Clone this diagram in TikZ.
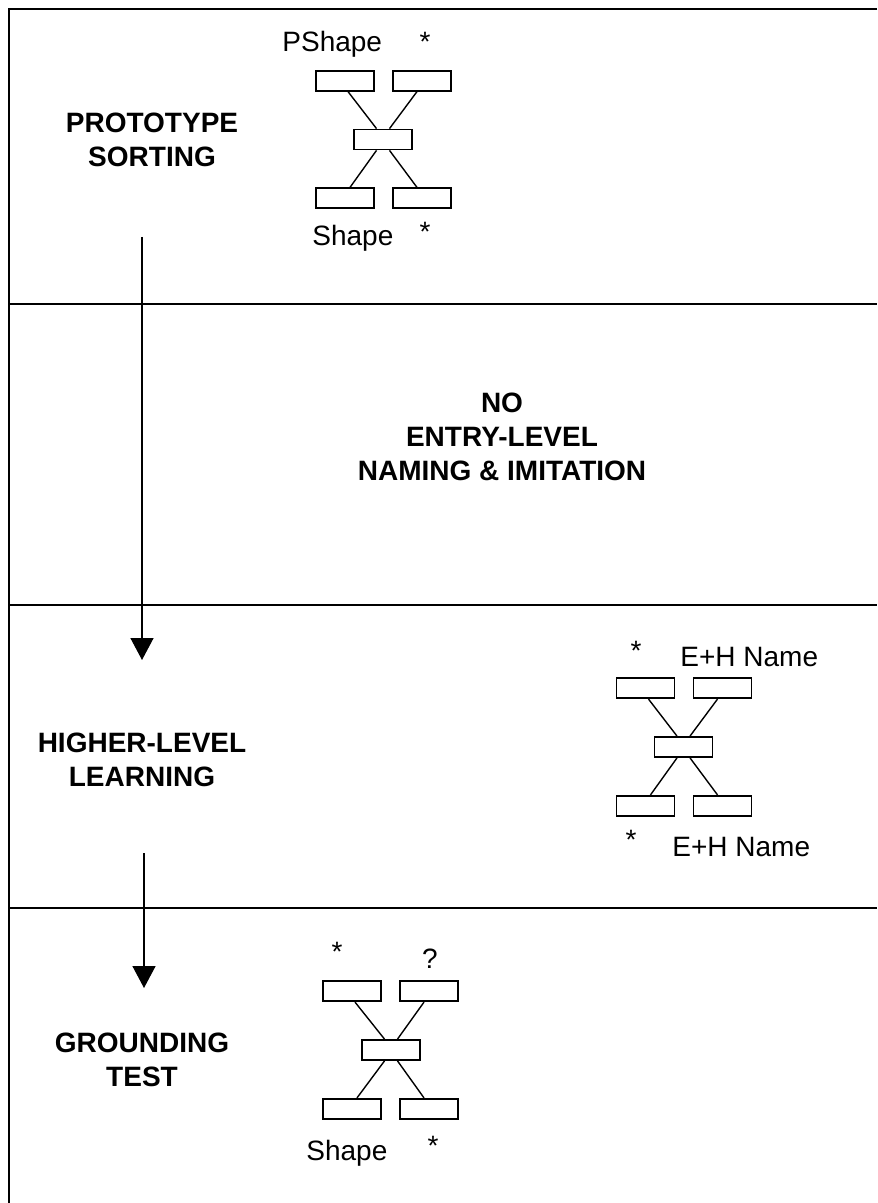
\documentclass[tikz,border=0pt]{standalone}
\usepackage{fontspec}
\setmainfont{Liberation Sans}
\usetikzlibrary{arrows.meta,positioning,calc}
\tikzset{
  unit/.style={
    rectangle,
    draw=black,
    line width=0.9pt,
    minimum width=29pt,
    minimum height=10pt,
    inner sep=0pt
  },
  stage/.style={
    align=center,
    inner sep=0pt,
    font=\fontsize{14}{17}\selectfont\bfseries
  },
  tag/.style={inner sep=0pt, font=\fontsize{14}{17}\selectfont},
  link/.style={line width=0.7pt},
  flowline/.style={-{Triangle[length=11pt,width=11.5pt]}, line width=0.75pt},
  rule/.style={line width=1pt}
}

\begin{document}
\begin{tikzpicture}[x=0.5pt, y=-0.5pt]
  \useasboundingbox (0,0) rectangle (877,1203);

  % frame and bands
  \draw[rule] (877,9) -- (9,9) -- (9,1203);
  \draw[rule] (9,304) -- (877,304);
  \draw[rule] (9,605) -- (877,605);
  \draw[rule] (9,908) -- (877,908);

  % stage names
  \node[stage] (proto) at (152,140) {PROTOTYPE\\SORTING};
  \node[stage] (noentry) at (502,437) {NO\\ENTRY-LEVEL\\NAMING \& IMITATION};
  \node[stage] (higher) at (142,760) {HIGHER-LEVEL\\LEARNING};
  \node[stage] (ground) at (142,1060) {GROUNDING\\TEST};

  % first net
  \node[unit] (amid) at (383,139.5) {};
  \node[unit, above=18.5pt of amid, xshift=-19pt] (atl) {};
  \node[unit, above=18.5pt of amid, xshift=19.5pt] (atr) {};
  \node[unit, below=18.5pt of amid, xshift=-19pt] (abl) {};
  \node[unit, below=18.5pt of amid, xshift=19.5pt] (abr) {};
  \node[tag, anchor=base west] (apshape) at (282,52) {PShape};
  \node[tag] (astartop) at (425,42) {*};
  \node[tag, anchor=base west] (ashape) at (312,246) {Shape};
  \node[tag] (astarbot) at (425,232) {*};

  \draw[link] ([xshift=1.5pt]atl.south) -- ([xshift=-3.25pt]amid.north);
  \draw[link] ([xshift=-2.5pt]atr.south) -- ([xshift=3.25pt]amid.north);
  \draw[link] ([xshift=-3.25pt]amid.south) -- ([xshift=2.5pt]abl.north);
  \draw[link] ([xshift=3.25pt]amid.south) -- ([xshift=-2.5pt]abr.north);

  % second net
  \node[unit] (bmid) at (683.5,747) {};
  \node[unit, above=18.5pt of bmid, xshift=-19pt] (btl) {};
  \node[unit, above=18.5pt of bmid, xshift=19.5pt] (btr) {};
  \node[unit, below=18.5pt of bmid, xshift=-19pt] (bbl) {};
  \node[unit, below=18.5pt of bmid, xshift=19.5pt] (bbr) {};
  \node[tag] (bstartop) at (636,651) {*};
  \node[tag, anchor=base west] (bnametop) at (680,666) {E+H Name};
  \node[tag] (bstarbot) at (631,840) {*};
  \node[tag, anchor=base west] (bnamebot) at (672,856) {E+H Name};

  \draw[link] ([xshift=1.5pt]btl.south) -- ([xshift=-3.25pt]bmid.north);
  \draw[link] ([xshift=-2.5pt]btr.south) -- ([xshift=3.25pt]bmid.north);
  \draw[link] ([xshift=-3.25pt]bmid.south) -- ([xshift=2.5pt]bbl.north);
  \draw[link] ([xshift=3.25pt]bmid.south) -- ([xshift=-2.5pt]bbr.north);

  % third net
  \node[unit] (cmid) at (391,1050) {};
  \node[unit, above=18.5pt of cmid, xshift=-19.5pt] (ctl) {};
  \node[unit, above=18.5pt of cmid, xshift=19pt] (ctr) {};
  \node[unit, below=18.5pt of cmid, xshift=-19.5pt] (cbl) {};
  \node[unit, below=18.5pt of cmid, xshift=19pt] (cbr) {};
  \node[tag] (cstartop) at (337,952) {*};
  \node[tag, anchor=base] (cquery) at (430,968) {?};
  \node[tag, anchor=base west] (cshape) at (306,1160) {Shape};
  \node[tag] (cstarbot) at (433,1146) {*};

  \draw[link] ([xshift=1.5pt]ctl.south) -- ([xshift=-3.25pt]cmid.north);
  \draw[link] ([xshift=-2.5pt]ctr.south) -- ([xshift=3.25pt]cmid.north);
  \draw[link] ([xshift=-3.25pt]cmid.south) -- ([xshift=2.5pt]cbl.north);
  \draw[link] ([xshift=3.25pt]cmid.south) -- ([xshift=-2.5pt]cbr.north);

  % progression arrows
  \coordinate (flowa) at (142,237);
  \coordinate (flowb) at (142,660);
  \coordinate (flowc) at (144,853);
  \coordinate (flowd) at (144,988);
  \draw[flowline] (flowa) -- (flowb);
  \draw[flowline] (flowc) -- (flowd);
\end{tikzpicture}
\end{document}
